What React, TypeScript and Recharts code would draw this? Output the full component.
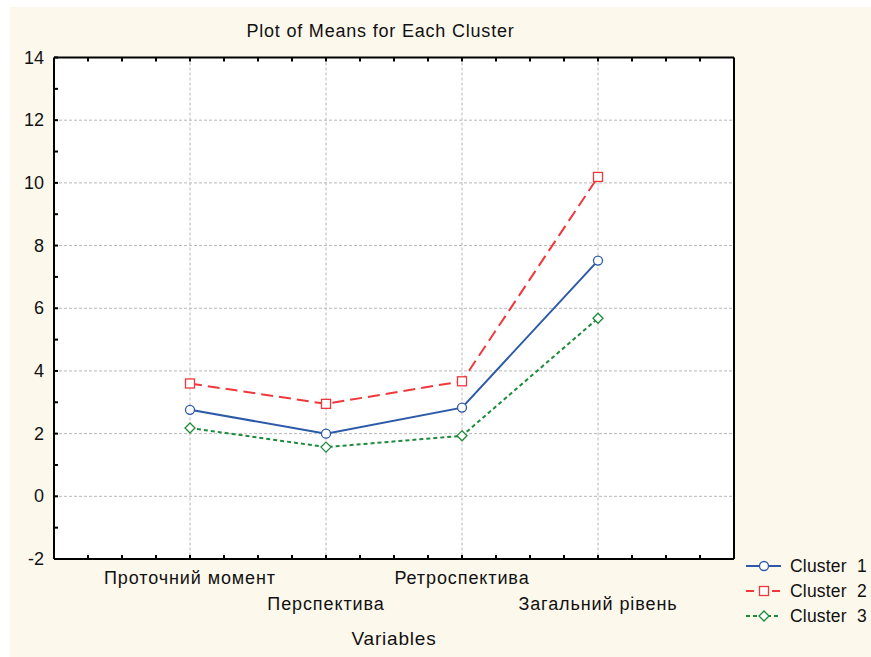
import React from 'react'
import { LineChart, Line, XAxis, YAxis, CartesianGrid, Legend } from 'recharts'

const categories = ['Проточний момент', 'Перспектива', 'Ретроспектива', 'Загальний рівень']
const categoryPos = [1, 2, 3, 4]
const cluster1 = [2.76, 2.0, 2.83, 7.52]
const cluster2 = [3.6, 2.95, 3.67, 10.19]
const cluster3 = [2.18, 1.57, 1.93, 5.68]

const yTicks = [-2, -1, 0, 1, 2, 3, 4, 5, 6, 7, 8, 9, 10, 11, 12, 13, 14]
const yLabels = [-2, 0, 2, 4, 6, 8, 10, 12, 14]
const gridY = [0, 2, 4, 6, 8, 10, 12]
const xTicks = [0.25, 0.5, 0.75, 1, 1.25, 1.5, 1.75, 2, 2.25, 2.5, 2.75, 3, 3.25, 3.5, 3.75, 4, 4.25, 4.5, 4.75]

const FONT = '"Liberation Sans", Arial, sans-serif'
const BLUE = '#2c5aa8'
const RED = '#f0383c'
const GREEN = '#1d8a3c'

const data = categoryPos.map((x, i) => ({
    x,
    name: categories[i],
    c1: cluster1[i],
    c2: cluster2[i],
    c3: cluster3[i],
}))

const series = [
    { key: 'c1', label: 'Cluster  1', color: BLUE, dash: undefined, marker: 'circle' },
    { key: 'c2', label: 'Cluster  2', color: RED, dash: '12 6', marker: 'square' },
    { key: 'c3', label: 'Cluster  3', color: GREEN, dash: '4 3', marker: 'diamond' },
]

function Marker({ type, cx, cy, color }: { type: string; cx: number; cy: number; color: string }) {
    if (type === 'square') {
        return <rect x={cx - 4.5} y={cy - 4.5} width={9} height={9} fill="#fff" stroke={color} strokeWidth={1.3} />
    }
    if (type === 'diamond') {
        return (
            <path
                d={`M${cx},${cy - 5}L${cx + 5},${cy}L${cx},${cy + 5}L${cx - 5},${cy}Z`}
                fill="#fff"
                stroke={color}
                strokeWidth={1.3}
            />
        )
    }
    return <circle cx={cx} cy={cy} r={4.5} fill="#fff" stroke={color} strokeWidth={1.3} />
}

const LeftTick = (p: any) => {
    const v = p.payload.value
    return (
        <g>
            <line x1={p.x} x2={p.x + 4} y1={p.y} y2={p.y} stroke="#000" strokeWidth={2} />
            {yLabels.includes(v) && (
                <text x={p.x - 10} y={p.y} textAnchor="end" dominantBaseline="central" fontSize={18} fontFamily={FONT} fill="#111">
                    {v}
                </text>
            )}
        </g>
    )
}

const RightTick = (p: any) => (
    <line x1={p.x} x2={p.x - 4} y1={p.y} y2={p.y} stroke="#000" strokeWidth={2} />
)

const BottomTick = (p: any) => {
    const v = p.payload.value
    const idx = categoryPos.indexOf(v)
    return (
        <g>
            <line x1={p.x} x2={p.x} y1={p.y} y2={p.y - 4} stroke="#000" strokeWidth={2} />
            {idx >= 0 && (
                <text
                    x={p.x}
                    y={p.y + (idx % 2 === 0 ? 19 : 45)}
                    textAnchor="middle"
                    dominantBaseline="central"
                    fontSize={18}
                    letterSpacing={0.9}
                    fontFamily={FONT}
                    fill="#111"
                >
                    {categories[idx]}
                </text>
            )}
        </g>
    )
}

const TopTick = (p: any) => (
    <line x1={p.x} x2={p.x} y1={p.y} y2={p.y + 4} stroke="#000" strokeWidth={2} />
)

function LegendBox() {
    return (
        <svg width={131} height={80}>
            {series.map((s, i) => {
                const y = 11 + i * 25
                return (
                    <g key={s.key}>
                        <line x1={6} x2={41} y1={y} y2={y} stroke={s.color} strokeWidth={2} strokeDasharray={s.dash === '12 6' ? '8 5' : s.dash} />
                        <Marker type={s.marker} cx={24} cy={y} color={s.color} />
                        <text
                            x={50}
                            y={y}
                            dominantBaseline="central"
                            fontSize={17.5}
                            letterSpacing={0.2}
                            fontFamily={FONT}
                            fill="#111"
                            xmlSpace="preserve"
                        >
                            {s.label}
                        </text>
                    </g>
                )
            })}
        </svg>
    )
}

export default function App() {
    return (
        <div style={{ position: 'absolute', left: 0, top: 0, width: 871, height: 657, background: '#fff' }}>
            <div style={{ position: 'absolute', left: 10, top: 7, width: 861, height: 650, background: '#fdf8ec' }} />
            <div
                style={{
                    position: 'absolute',
                    left: 0,
                    top: 20,
                    width: 761,
                    textAlign: 'center',
                    fontFamily: FONT,
                    fontSize: 18,
                    letterSpacing: 0.8,
                    color: '#111',
                    lineHeight: '22px',
                }}
            >
                Plot of Means for Each Cluster
            </div>
            <div style={{ position: 'absolute', left: 0, top: 0 }}>
                <LineChart width={871} height={657} data={data} margin={{ top: 50, right: 136, bottom: 90, left: 10 }}>
                    <CartesianGrid
                        xAxisId="g"
                        yAxisId="g"
                        fill="#ffffff"
                        stroke="#b8b8b8"
                        strokeDasharray="3 2"
                    />
                    <XAxis xAxisId="g" hide type="number" dataKey="x" domain={[0, 5]} ticks={categoryPos} interval={0} />
                    <YAxis
                        yAxisId="g"
                        hide
                        type="number"
                        dataKey="c2"
                        domain={[-2, 14]}
                        ticks={gridY}
                        interval={0}
                        allowDataOverflow
                    />
                    <XAxis
                        dataKey="x"
                        type="number"
                        domain={[0, 5]}
                        ticks={xTicks}
                        interval={0}
                        height={8}
                        tickSize={0}
                        tickMargin={0}
                        tickLine={false}
                        tick={BottomTick}
                        axisLine={{ stroke: '#000', strokeWidth: 2 }}
                    />
                    <XAxis
                        xAxisId="t"
                        orientation="top"
                        dataKey="x"
                        type="number"
                        domain={[0, 5]}
                        ticks={xTicks}
                        interval={0}
                        height={7.5}
                        tickSize={0}
                        tickMargin={0}
                        tickLine={false}
                        tick={TopTick}
                        axisLine={{ stroke: '#000', strokeWidth: 2 }}
                    />
                    <YAxis
                        type="number"
                        domain={[-2, 14]}
                        ticks={yTicks}
                        interval={0}
                        width={44}
                        tickSize={0}
                        tickMargin={0}
                        tickLine={false}
                        tick={LeftTick}
                        axisLine={{ stroke: '#000', strokeWidth: 2 }}
                    />
                    <YAxis
                        yAxisId="r"
                        orientation="right"
                        type="number"
                        domain={[-2, 14]}
                        ticks={yTicks}
                        interval={0}
                        width={1}
                        tickSize={0}
                        tickMargin={0}
                        tickLine={false}
                        tick={RightTick}
                        axisLine={{ stroke: '#000', strokeWidth: 2 }}
                    />
                    {series.map((s) => (
                        <Line
                            key={s.key}
                            dataKey={s.key}
                            type="linear"
                            stroke={s.color}
                            strokeWidth={2}
                            strokeDasharray={s.dash}
                            isAnimationActive={false}
                            dot={(p: any) => <Marker key={`${s.key}-${p.index}`} type={s.marker} cx={p.cx} cy={p.cy} color={s.color} />}
                            activeDot={false}
                        />
                    ))}
                    <Legend
                        layout="horizontal"
                        verticalAlign="middle"
                        align="center"
                        content={() => <LegendBox />}
                        wrapperStyle={{ left: 740, top: 555, width: 131, height: 80 }}
                    />
                </LineChart>
            </div>
            <div
                style={{
                    position: 'absolute',
                    left: 54,
                    top: 628,
                    width: 680,
                    textAlign: 'center',
                    fontFamily: FONT,
                    fontSize: 19,
                    letterSpacing: 0.8,
                    color: '#111',
                    lineHeight: '22px',
                }}
            >
                Variables
            </div>
        </div>
    )
}
